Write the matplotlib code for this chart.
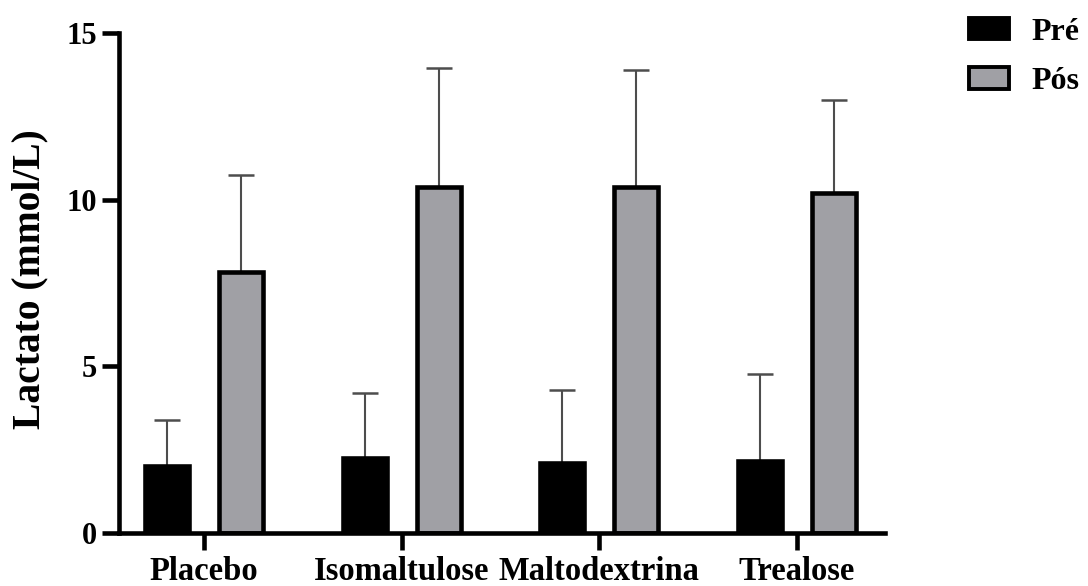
import numpy as np
import matplotlib
matplotlib.use('Agg')
import matplotlib.pyplot as plt
from matplotlib.transforms import ScaledTranslation

# data
grupos = ['Placebo', 'Isomaltulose', 'Maltodextrina', 'Trealose']
pre = [2.0, 2.25, 2.1, 2.15]
pre_dp = [1.37, 1.93, 2.17, 2.6]
pos = [7.82, 10.38, 10.38, 10.2]
pos_dp = [2.93, 3.58, 3.5, 2.8]

plt.rcParams['font.family'] = ['Liberation Serif', 'DejaVu Serif']
plt.rcParams['font.weight'] = 'bold'

cor_pos = '#a0a0a5'
cor_erro = '#4d4d4d'
lw = 3.3  # thick GraphPad-style lines

fig = plt.figure(figsize=(10.88, 5.86), dpi=100)
ax = fig.add_axes([0.1091, 0.0910, 0.7043, 0.8527])

x = np.arange(len(grupos))
desl = 0.187
larg = 0.223

b1 = ax.bar(x - desl, pre, larg, color='black', edgecolor='black', linewidth=lw, label='Pré', zorder=2)
b2 = ax.bar(x + desl, pos, larg, color=cor_pos, edgecolor='black', linewidth=lw, label='Pós', zorder=2)

# only the upper half of the error bars, like in the original
ax.errorbar(x - desl, pre, yerr=[np.zeros(len(pre)), pre_dp], fmt='none', ecolor=cor_erro,
            elinewidth=1.5, capsize=9.4, capthick=1.8, zorder=1)
ax.errorbar(x + desl, pos, yerr=[np.zeros(len(pos)), pos_dp], fmt='none', ecolor=cor_erro,
            elinewidth=1.5, capsize=9.4, capthick=1.8, zorder=1)

ax.set_xlim(-0.432, 3.446)
ax.set_ylim(0, 15)
ax.set_yticks([0, 5, 10, 15])
ax.set_xticks(x)
ax.set_xticklabels(grupos, fontsize=23.5, fontweight='bold')
for t in ax.get_yticklabels():
    t.set_fontsize(22)
    t.set_fontweight('bold')

# the middle labels sit a bit off their ticks in the original
desloc_px = [0, -11, 11, 0]
for t, d in zip(ax.get_xticklabels(), desloc_px):
    t.set_transform(t.get_transform() + ScaledTranslation(d / 100, 0, fig.dpi_scale_trans))

ax.spines['top'].set_visible(False)
ax.spines['right'].set_visible(False)
ax.spines['left'].set_linewidth(lw)
ax.spines['bottom'].set_linewidth(lw)
ax.tick_params(axis='both', direction='out', length=12, width=lw, pad=3.5)
ax.tick_params(axis='x', pad=5)

ax.set_ylabel('Lactato (mmol/L)', fontsize=28.5, fontweight='bold')
ax.yaxis.set_label_coords(-0.092, 0.508)

leg = ax.legend(handles=[b1, b2], loc='upper left', bbox_to_anchor=(0.8906, 0.97),
                bbox_transform=fig.transFigure, frameon=False, fontsize=23,
                handlelength=1.25, handleheight=0.66, handletextpad=0.7,
                labelspacing=0.65, borderpad=0, borderaxespad=0)
for h in leg.legend_handles:
    h.set_linewidth(2.8)

fig.savefig('out.png', dpi=100)
